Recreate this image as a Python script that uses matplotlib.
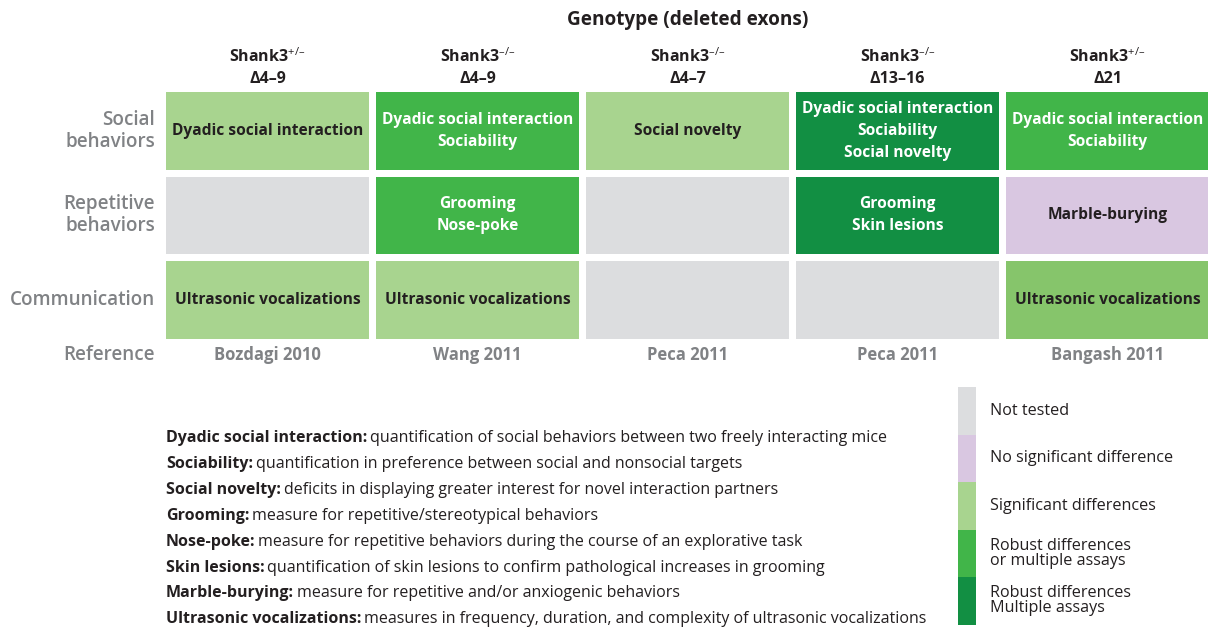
import matplotlib
matplotlib.use("Agg")
import matplotlib.pyplot as plt
from matplotlib.patches import Rectangle

plt.rcParams["font.family"] = ["Open Sans", "DejaVu Sans"]
plt.rcParams["mathtext.fontset"] = "custom"
plt.rcParams["mathtext.rm"] = "Open Sans"
plt.rcParams["mathtext.default"] = "rm"

# data
title = "Genotype (deleted exons)"
genotypes = ["Shank3$^{+/\u2013}$", "Shank3$^{\u2013/\u2013}$", "Shank3$^{\u2013/\u2013}$",
             "Shank3$^{\u2013/\u2013}$", "Shank3$^{+/\u2013}$"]
exons = ["Δ4–9", "Δ4–9", "Δ4–7", "Δ13–16", "Δ21"]
references = ["Bozdagi 2010", "Wang 2011", "Peca 2011", "Peca 2011", "Bangash 2011"]
domains = ["Social\nbehaviors", "Repetitive\nbehaviors", "Communication"]

# 0 not tested, 1 no sig. difference, 2 significant, 3 robust or multiple, 4 robust + multiple, 5 significant (medium)
social_status = [2, 3, 2, 4, 3]
repetitive_status = [0, 3, 0, 4, 1]
communication_status = [2, 2, 0, 0, 5]

social_text = ["Dyadic social interaction", "Dyadic social interaction\nSociability", "Social novelty",
               "Dyadic social interaction\nSociability\nSocial novelty", "Dyadic social interaction\nSociability"]
repetitive_text = ["", "Grooming\nNose-poke", "", "Grooming\nSkin lesions", "Marble-burying"]
communication_text = ["Ultrasonic vocalizations", "Ultrasonic vocalizations", "", "", "Ultrasonic vocalizations"]

legend_labels = ["Not tested", "No significant difference", "Significant differences",
                 "Robust differences\nor multiple assays", "Robust differences\nMultiple assays"]

terms = ["Dyadic social interaction:", "Sociability:", "Social novelty:", "Grooming:", "Nose-poke:",
         "Skin lesions:", "Marble-burying:", "Ultrasonic vocalizations:"]
definitions = ["quantification of social behaviors between two freely interacting mice",
               "quantification in preference between social and nonsocial targets",
               "deficits in displaying greater interest for novel interaction partners",
               "measure for repetitive/stereotypical behaviors",
               "measure for repetitive behaviors during the course of an explorative task",
               "quantification of skin lesions to confirm pathological increases in grooming",
               "measure for repetitive and/or anxiogenic behaviors",
               "measures in frequency, duration, and complexity of ultrasonic vocalizations"]

status_colors = ["#dcdddf", "#d9c7e1", "#a8d48f", "#41b549", "#128f43", "#86c56b"]
dark = "#231f20"
grey = "#808285"

status = [social_status, repetitive_status, communication_status]
texts = [social_text, repetitive_text, communication_text]

# layout (pixels)
W, H = 1208, 627
x0, col_pitch, cell_w = 166, 210, 203
y0, row_pitch, cell_h = 92, 84.5, 77.5

fig = plt.figure(figsize=(W / 100, H / 100), dpi=100)
ax = fig.add_axes([0, 0, 1, 1])
ax.set_xlim(0, W)
ax.set_ylim(H, 0)
ax.axis("off")

grid_center = x0 + (len(genotypes) - 1) * col_pitch / 2 + cell_w / 2
ax.text(grid_center, 20, title, ha="center", va="center", fontsize=13.7, fontweight="bold", color=dark)

for j, (g, e, r) in enumerate(zip(genotypes, exons, references)):
    cx = x0 + j * col_pitch + cell_w / 2
    ax.text(cx, 57, g, ha="center", va="center", fontsize=11.5, fontweight="bold", color=dark)
    ax.text(cx, 79, e, ha="center", va="center", fontsize=11.5, fontweight="bold", color=dark)
    ax.text(cx, 355, r, ha="center", va="center", fontsize=12, fontweight="bold", color=grey)

for i, label in enumerate(domains):
    cy = y0 + i * row_pitch + cell_h / 2
    ax.text(155, cy, label, ha="right", va="center", fontsize=13.6, fontweight="semibold",
            color=grey, linespacing=1.15)
    for j in range(len(genotypes)):
        s = status[i][j]
        left = x0 + j * col_pitch
        top = y0 + i * row_pitch
        ax.add_patch(Rectangle((left, top), cell_w, cell_h, facecolor=status_colors[s], edgecolor="none"))
        if texts[i][j]:
            ax.text(left + cell_w / 2, top + cell_h / 2, texts[i][j], ha="center", va="center",
                    fontsize=11.2, fontweight="bold", linespacing=1.5,
                    color="white" if s in (3, 4) else dark)
ax.text(155, 355, "Reference", ha="right", va="center", fontsize=13.6, fontweight="semibold", color=grey)

# legend bar
seg_h = 47.5
for k, lab in enumerate(legend_labels):
    ax.add_patch(Rectangle((958, 387 + k * seg_h), 18, seg_h, facecolor=status_colors[k], edgecolor="none"))
    ax.text(990, 387 + k * seg_h + seg_h / 2, lab, ha="left", va="center", fontsize=11.6,
            color=dark, linespacing=0.95)

# definitions
for k, (t, d) in enumerate(zip(terms, definitions)):
    y = 438 + k * 25.9
    tt = ax.text(166, y, t, ha="left", va="center", fontsize=11.5, fontweight="bold", color=dark)
    ax.annotate(d, xy=(1, 0), xycoords=tt, xytext=(2, 0), textcoords="offset points",
                ha="left", va="bottom", fontsize=11.5, color=dark)

fig.savefig("out.png", dpi=100)
